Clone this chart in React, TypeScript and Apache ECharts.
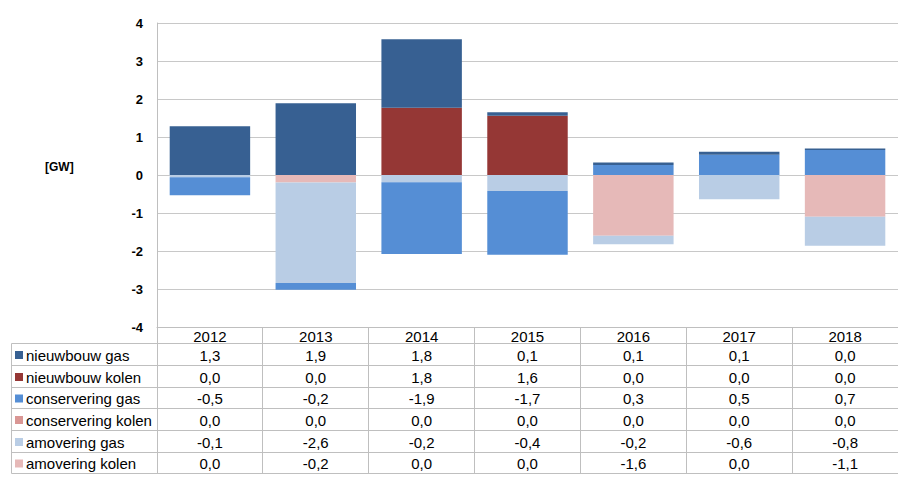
import React, { useEffect, useRef } from 'react';
import * as echarts from 'echarts';

// ---- data ----
const years = ['2012', '2013', '2014', '2015', '2016', '2017', '2018'];
const nieuwbouwGas = [1.28, 1.89, 1.8, 0.09, 0.07, 0.08, 0.04];
const nieuwbouwKolen = [0, 0, 1.77, 1.56, 0, 0, 0];
const conserveringGas = [-0.47, -0.18, -1.89, -1.68, 0.26, 0.53, 0.66];
const conserveringKolen = [0, 0, 0, 0, 0, 0, 0];
const amoveringGas = [-0.06, -2.64, -0.19, -0.42, -0.22, -0.64, -0.76];
const amoveringKolen = [0, -0.2, 0, 0, -1.6, 0, -1.1];
const seriesNames = [
  'nieuwbouw gas',
  'nieuwbouw kolen',
  'conservering gas',
  'conservering kolen',
  'amovering gas',
  'amovering kolen',
];
const seriesValues = [
  nieuwbouwGas,
  nieuwbouwKolen,
  conserveringGas,
  conserveringKolen,
  amoveringGas,
  amoveringKolen,
];
const yMin = -4;
const yMax = 4;
const yInterval = 1;
const unitLabel = '[GW]';

// ---- styles ----
const colors = ['#376092', '#953735', '#558ED5', '#D99694', '#B9CDE5', '#E6B9B8'];
const FONT = "'Liberation Sans', Arial, sans-serif";
const LINE = '#BFBFBF';
const GRIDLINE = '#C8C8C8';

// ---- layout ----
const W = 898;
const H = 490;
const GRID_LEFT = 157;
const GRID_TOP = 23;
const AXIS_Y = 327;
const TABLE_LEFT = 11.5;
const ROW_LINES = [343.5, 365.5, 387.5, 408.5, 430.5, 452.5, 473.5];

const fmt = (v: number) => v.toFixed(1).replace('.', ',');

export default function App() {
  const ref = useRef<HTMLDivElement>(null);

  useEffect(() => {
    document.body.style.margin = '0';
    const chart = echarts.init(ref.current!, undefined, { renderer: 'svg' });

    const colW = (W - GRID_LEFT) / years.length;
    const graphics: any[] = [];
    const line = (x1: number, y1: number, x2: number, y2: number) =>
      graphics.push({
        type: 'line',
        silent: true,
        shape: { x1, y1, x2, y2 },
        style: { stroke: LINE, lineWidth: 1 },
        z: 10,
      });

    // horizontal table lines
    ROW_LINES.forEach((y) => line(TABLE_LEFT, y, W, y));
    // left border of legend column
    line(TABLE_LEFT, ROW_LINES[0], TABLE_LEFT, ROW_LINES[ROW_LINES.length - 1]);
    // y axis extension through table
    line(GRID_LEFT + 0.5, AXIS_Y, GRID_LEFT + 0.5, ROW_LINES[ROW_LINES.length - 1]);
    // column separators
    for (let i = 1; i < years.length; i++) {
      const x = Math.floor(GRID_LEFT + i * colW) + 0.5;
      line(x, AXIS_Y, x, ROW_LINES[ROW_LINES.length - 1]);
    }

    // table rows
    seriesNames.forEach((name, r) => {
      const cy = (ROW_LINES[r] + ROW_LINES[r + 1]) / 2 + 0.5;
      graphics.push({
        type: 'rect',
        silent: true,
        shape: { x: 15, y: cy - 4, width: 8, height: 8 },
        style: { fill: colors[r] },
        z: 10,
      });
      graphics.push({
        type: 'text',
        silent: true,
        x: 26,
        y: cy,
        style: {
          text: name,
          fontSize: 15,
          fontFamily: FONT,
          fill: '#000',
          textAlign: 'left',
          textVerticalAlign: 'middle',
        },
        z: 10,
      });
      seriesValues[r].forEach((v, i) => {
        graphics.push({
          type: 'text',
          silent: true,
          x: GRID_LEFT + (i + 0.5) * colW,
          y: cy,
          style: {
            text: fmt(v),
            fontSize: 15,
            fontFamily: FONT,
            fill: '#000',
            textAlign: 'center',
            textVerticalAlign: 'middle',
          },
          z: 10,
        });
      });
    });

    // unit label
    graphics.push({
      type: 'text',
      silent: true,
      x: 45,
      y: 167,
      style: {
        text: unitLabel,
        fontSize: 12,
        fontWeight: 'bold',
        fontFamily: FONT,
        fill: '#000',
        textAlign: 'left',
        textVerticalAlign: 'middle',
      },
    });

    // stacking order: first series sits closest to zero
    const order = seriesNames.map((_, i) => i).reverse();
    const series = order.map((i) => ({
      type: 'bar',
      name: seriesNames[i],
      stack: 'total',
      data: seriesValues[i],
      barWidth: '76%',
      itemStyle: { color: colors[i] },
      emphasis: { disabled: true },
    }));

    chart.setOption({
      animation: false,
      backgroundColor: '#fff',
      textStyle: { fontFamily: FONT },
      grid: {
        left: GRID_LEFT,
        right: 0,
        top: GRID_TOP,
        bottom: H - AXIS_Y,
        containLabel: false,
      },
      xAxis: {
        type: 'category',
        data: years,
        boundaryGap: true,
        axisLine: { onZero: false, lineStyle: { color: LINE, width: 1 } },
        axisTick: { show: false },
        axisLabel: { color: '#000', fontSize: 15, margin: 2, fontFamily: FONT },
        splitLine: { show: false },
      },
      yAxis: {
        type: 'value',
        min: yMin,
        max: yMax,
        interval: yInterval,
        axisLine: { show: true, lineStyle: { color: LINE, width: 1 } },
        axisTick: { show: false },
        axisLabel: {
          color: '#000',
          fontSize: 13,
          fontWeight: 'bold',
          margin: 14,
          fontFamily: FONT,
        },
        splitLine: { show: true, lineStyle: { color: GRIDLINE, width: 1 } },
      },
      series,
      graphic: graphics,
    });

    return () => chart.dispose();
  }, []);

  return <div ref={ref} style={{ width: W, height: H }} />;
}
